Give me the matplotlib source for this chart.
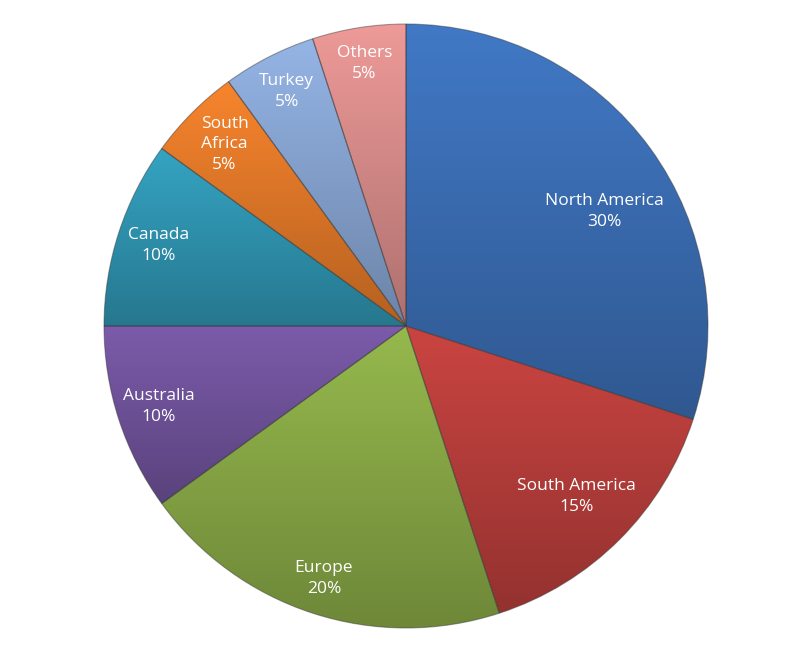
import matplotlib
matplotlib.use('Agg')
import matplotlib.pyplot as plt
import matplotlib.colors as mcolors
import numpy as np

# slice data, clockwise from 12 o'clock
regions = ['North America', 'South America', 'Europe', 'Australia',
           'Canada', 'South\nAfrica', 'Turkey', 'Others']
shares = [30, 15, 20, 10, 10, 5, 5, 5]
colors = ['#3d71b9', '#bd403d', '#8cad48', '#73559f',
          '#3199b6', '#e87c2a', '#8ba9d7', '#de908e']

fig = plt.figure(figsize=(8.01, 6.49), dpi=100)
ax = fig.add_axes([104 / 801, 21 / 649, 604 / 801, 604 / 649])

wedges, _ = ax.pie(shares, startangle=90, counterclock=False, radius=1.0,
                   colors=colors,
                   wedgeprops=dict(linewidth=0.8, edgecolor='#33333370'))

# each slice shaded top (light) to bottom (dark)
ny = 200
shade = np.linspace(0.78, 1.07, ny)[:, None]
for w, c in zip(wedges, colors):
    rgb = np.array(mcolors.to_rgb(c))
    img = np.clip(rgb[None, None, :] * shade[:, :, None], 0, 1)
    img = np.repeat(img, 2, axis=1)
    verts = w.get_path().vertices
    y0, y1 = verts[:, 1].min(), verts[:, 1].max()
    im = ax.imshow(img, extent=[-1, 1, y0, y1], origin='lower',
                   interpolation='bilinear', aspect='auto',
                   zorder=w.get_zorder() + 0.1)
    im.set_clip_path(w)
    w.set_facecolor('none')
    w.set_zorder(w.get_zorder() + 0.2)

# labels inside slices
label_dist = [0.76, 0.80, 0.88, 0.86, 0.86, 0.85, 0.87, 0.88]
label_shift = [-6, 0, 0, 0, 0, 0, 0, 0]  # degrees, best-fit nudge
total = float(sum(shares))
start = 90.0
for name, val, d, s in zip(regions, shares, label_dist, label_shift):
    sweep = 360.0 * val / total
    mid = np.deg2rad(start - sweep / 2 + s)
    ax.text(d * np.cos(mid), d * np.sin(mid),
            f'{name}\n{val}%', ha='center', va='center', color='white',
            fontsize=12.5, family=['Open Sans', 'DejaVu Sans'],
            linespacing=1.4, zorder=10)
    start -= sweep

ax.set_xlim(-1.0, 1.0)
ax.set_ylim(-1.0, 1.0)
ax.axis('off')

plt.savefig('out.png', dpi=100)
plt.close()
